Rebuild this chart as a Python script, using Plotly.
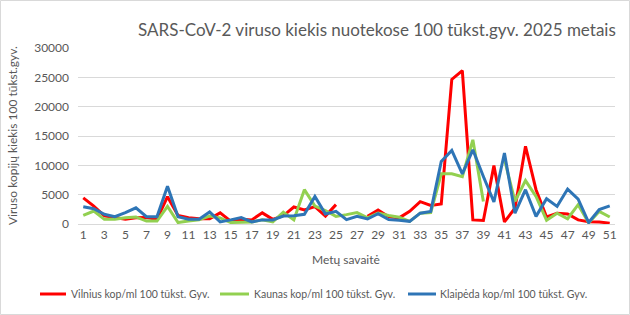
import plotly.graph_objects as go

weeks = list(range(1, 52))
vilnius = [4450, 3050, 1400, 1100, 800, 1050, 1100, 800, 4650, 1450,
           1080, 900, 900, 1900, 500, 800, 700, 1900, 800, 1400,
           2900, 2400, 2950, 1350, 3300, None, None, 1300, 2400, 1250,
           1050, 2150, 3800, 3150, 3400, 24650, 26150, 700, 600, 9950,
           350, 2700, 13250, 5850, 1200, 1850, 1700, 700, 400, 350, 150]
kaunas = [1450, 2200, 800, 800, 1050, 1200, 500, 500, 3000, 250,
          500, 700, 1350, 1050, 250, 350, 350, 700, 350, 2000,
          700, 5850, 3050, 2300, 1300, 1600, 1950, 1050, 1850, 1450,
          1150, 450, 1850, 1950, 8550, 8550, 8050, 14350, 3850, None,
          11000, 3850, 7400, 4700, 650, 1850, 900, 3300, 200, 2150, 1200]
klaipeda = [2950, 2600, 1650, 1250, 1950, 2750, 1250, 1250, 6450, 1250,
            800, 800, 2050, 350, 700, 1100, 350, 700, 700, 1350,
            1400, 1650, 4700, 1700, 2150, 750, 1300, 850, 1750, 750,
            650, 450, 1850, 2150, 10650, 12550, 8550, 12650, 8100, 3750,
            12100, 1850, 5850, 1300, 4300, 3000, 5950, 4250, 250, 2450, 3100]
series_names = ["Vilnius kop/ml 100 tūkst. Gyv.",
                "Kaunas kop/ml 100 tūkst. Gyv.",
                "Klaipėda kop/ml 100 tūkst. Gyv."]
colors = ["#FF0000", "#92D050", "#2E75B6"]
x_ticks = list(range(1, 52, 2))
y_ticks = list(range(0, 30001, 5000))

FONT = "Lato"
TXT = "#595959"

fig = go.Figure()
for name, vals, col in zip(series_names, [vilnius, kaunas, klaipeda], colors):
    fig.add_trace(go.Scatter(x=weeks, y=vals, name=name, mode="lines",
                             line=dict(color=col, width=3),
                             connectgaps=False, showlegend=False))

L, R, T, B = 78, 15, 48, 91
W, H = 630, 315
pw = W - L - R
ph = H - T - B


def px(xp):
    return (xp - L) / pw


def py(yp):
    return (T + ph - yp) / ph


# custom legend (positions in pixels, matching the reference)
leg_y = 294
leg_items = [(40, 66, 69), (220, 249, 252), (408, 436, 438)]
shapes = [dict(type="rect", xref="paper", yref="paper",
               x0=px(0.5), x1=px(W - 0.5), y0=py(H - 0.5), y1=py(0.5),
               line=dict(color="#d9d9d9", width=1), layer="below")]
annotations = [
    dict(text="SARS-CoV-2 viruso kiekis nuotekose 100 tūkst.gyv. 2025 metais",
         xref="paper", yref="paper", x=px(618), xanchor="right",
         y=py(30), yanchor="middle", showarrow=False,
         font=dict(family=FONT, size=17, color=TXT)),
    dict(text="Metų savaitė", xref="paper", yref="paper",
         x=px(346), xanchor="center", y=py(259), yanchor="middle",
         showarrow=False, font=dict(family=FONT, size=12, color=TXT)),
    dict(text="Viruso kopijų kiekis 100 tūkst.gyv.", xref="paper", yref="paper",
         x=px(12), xanchor="center", y=py(136), yanchor="middle",
         showarrow=False, textangle=-90,
         font=dict(family=FONT, size=12, color=TXT)),
]
for (x0, x1, xt), name, col in zip(leg_items, series_names, colors):
    shapes.append(dict(type="line", xref="paper", yref="paper",
                       x0=px(x0), x1=px(x1), y0=py(leg_y), y1=py(leg_y),
                       line=dict(color=col, width=3)))
    annotations.append(dict(text=name, xref="paper", yref="paper",
                            x=px(xt), xanchor="left", y=py(leg_y),
                            yanchor="middle", showarrow=False,
                            font=dict(family=FONT, size=10.5, color=TXT)))

fig.update_layout(
    width=W, height=H,
    margin=dict(l=L, r=R, t=T, b=B, autoexpand=False),
    paper_bgcolor="white", plot_bgcolor="white",
    font=dict(family=FONT, size=12, color=TXT),
    showlegend=False,
    xaxis=dict(range=[0.5, 51.5], tickmode="array", tickvals=x_ticks,
               ticktext=[str(t) for t in x_ticks], showgrid=False,
               showline=True, linecolor="#d9d9d9", linewidth=1,
               ticks="", zeroline=False, ticklabelstandoff=0,
               tickfont=dict(family=FONT, size=12, color=TXT)),
    yaxis=dict(range=[0, 30000], tickmode="array", tickvals=y_ticks,
               ticktext=[str(t) for t in y_ticks], showgrid=True,
               gridcolor="#d9d9d9", gridwidth=1, zeroline=False,
               showline=False, ticks="", ticklabelstandoff=8,
               tickfont=dict(family=FONT, size=12, color=TXT)),
    annotations=annotations,
    shapes=shapes,
)

fig.write_html("out.html")
